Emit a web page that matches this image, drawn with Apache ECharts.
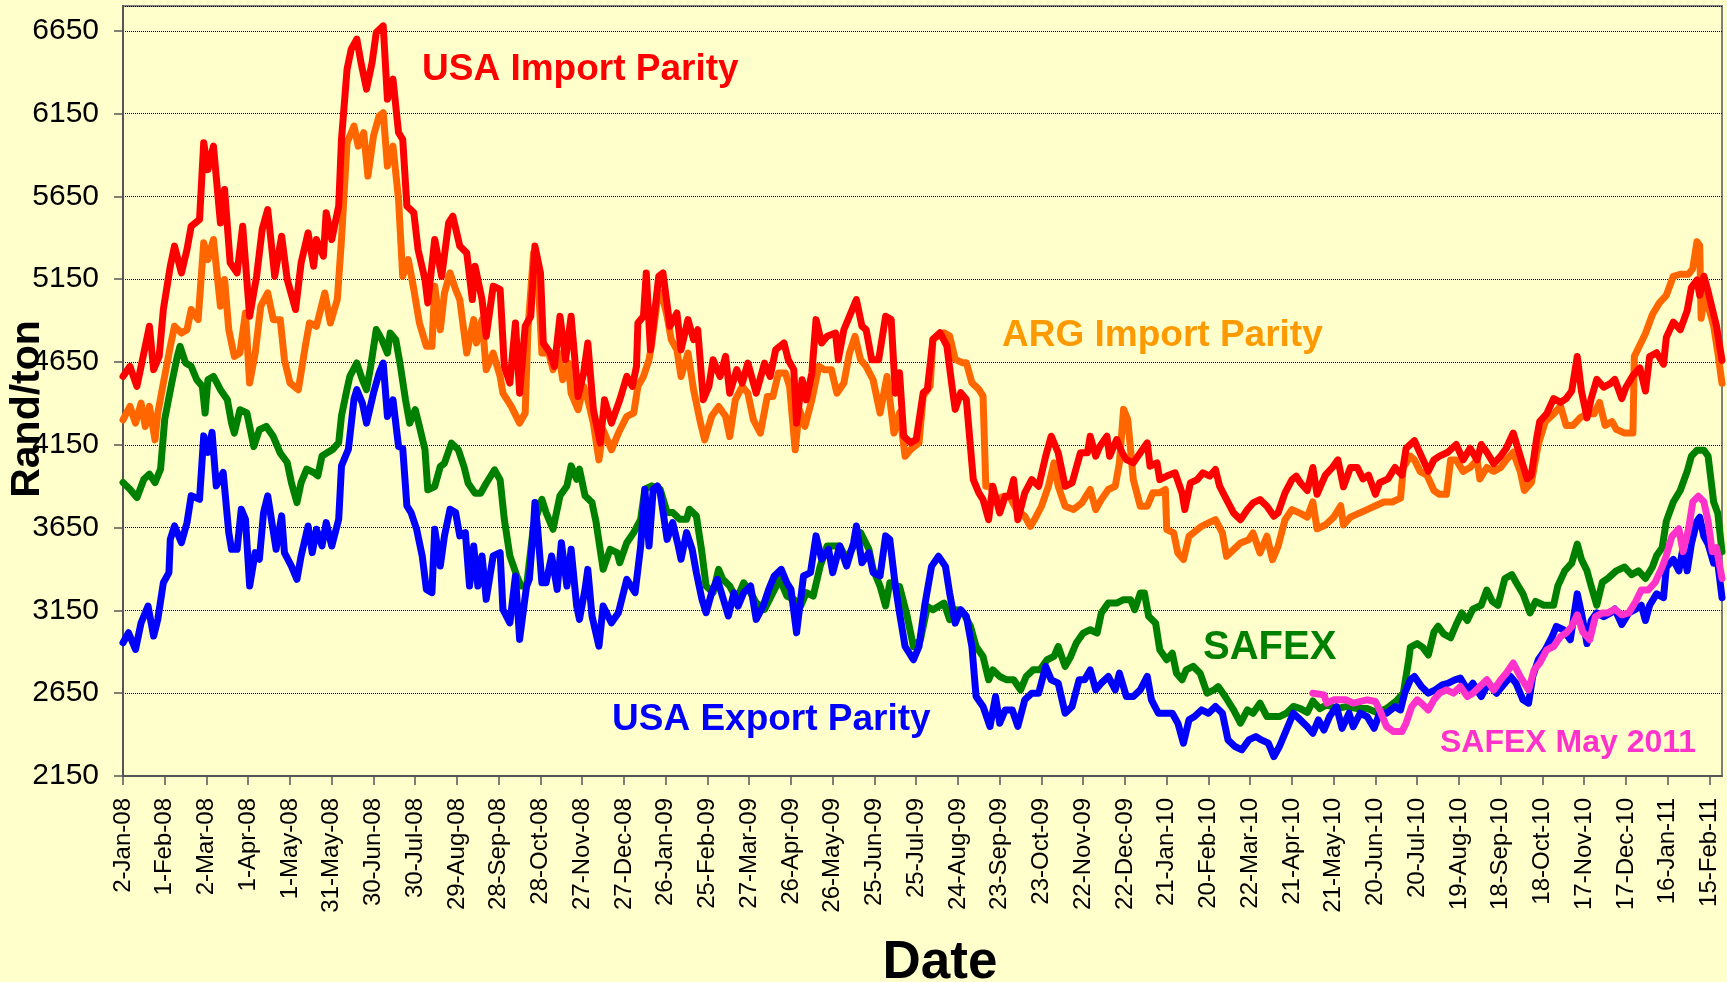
<!DOCTYPE html>
<html>
<head>
<meta charset="utf-8">
<script src="https://cdn.jsdelivr.net/npm/echarts@6/dist/echarts.min.js"></script>
<style>
html,body{margin:0;padding:0;background:#FFFFCC;}
#chart{width:1727px;height:982px;}
</style>
</head>
<body>
<div id="chart"></div>
<script>
// x values are days since 2-Jan-08
const tickLabels = ['2-Jan-08','1-Feb-08','2-Mar-08','1-Apr-08','1-May-08','31-May-08','30-Jun-08','30-Jul-08','29-Aug-08','28-Sep-08','28-Oct-08','27-Nov-08','27-Dec-08','26-Jan-09','25-Feb-09','27-Mar-09','26-Apr-09','26-May-09','25-Jun-09','25-Jul-09','24-Aug-09','23-Sep-09','23-Oct-09','22-Nov-09','22-Dec-09','21-Jan-10','20-Feb-10','22-Mar-10','21-Apr-10','21-May-10','20-Jun-10','20-Jul-10','19-Aug-10','18-Sep-10','18-Oct-10','17-Nov-10','17-Dec-10','16-Jan-11','15-Feb-11'];

const usaImport = [[0,4563],[5,4624],[10,4503],[15,4704],[19,4866],[22,4604],[26,4684],[29,4967],[34,5229],[37,5350],[42,5188],[46,5330],[49,5470],[55,5511],[58,5974],[61,5812],[65,5954],[70,5490],[73,5692],[77,5249],[82,5188],[86,5470],[91,4926],[96,5168],[100,5450],[104,5571],[109,5168],[114,5410],[118,5148],[124,4967],[128,5249],[133,5430],[137,5229],[139,5390],[144,5289],[146,5551],[150,5390],[155,5592],[157,5994],[161,6418],[164,6539],[168,6600],[171,6459],[175,6298],[179,6459],[182,6640],[187,6680],[190,6237],[194,6358],[198,6036],[201,5994],[204,5592],[209,5551],[212,5330],[217,5148],[219,5007],[224,5390],[229,5168],[234,5490],[237,5531],[242,5350],[247,5309],[251,5027],[253,5229],[258,5027],[261,4805],[266,5108],[271,5088],[274,4624],[278,4523],[282,4886],[285,4462],[289,4866],[293,4926],[296,5350],[300,5188],[302,4765],[307,4704],[310,4624],[314,4926],[318,4664],[322,4926],[327,4442],[331,4583],[334,4765],[338,4362],[343,4160],[346,4422],[351,4281],[357,4422],[362,4563],[366,4503],[369,4624],[370,4886],[374,4926],[376,5188],[379,4724],[382,4946],[385,5168],[388,5188],[393,4866],[398,4946],[401,4724],[406,4906],[410,4785],[413,4845],[417,4422],[421,4503],[424,4664],[429,4563],[433,4684],[436,4462],[441,4604],[445,4523],[449,4644],[455,4462],[461,4644],[465,4563],[469,4724],[475,4765],[478,4664],[482,4604],[484,4281],[488,4543],[491,4422],[495,4583],[498,4906],[502,4765],[506,4805],[512,4825],[514,4664],[518,4845],[522,4926],[527,5027],[531,4866],[534,4845],[538,4664],[543,4664],[548,4926],[552,4906],[555,4462],[558,4585],[561,4202],[566,4162],[570,4182],[575,4465],[578,4485],[582,4787],[587,4827],[592,4747],[596,4485],[598,4364],[602,4465],[606,4424],[611,3940],[615,3860],[618,3819],[622,3698],[625,3900],[630,3739],[634,3840],[637,3840],[640,3940],[643,3698],[648,3860],[653,3940],[658,3900],[663,4081],[667,4202],[672,4102],[677,3900],[682,3920],[688,4102],[693,4102],[695,4202],[699,4081],[702,4142],[707,4202],[709,4081],[714,4182],[718,4102],[721,4061],[726,4041],[731,4102],[736,4162],[738,4021],[743,4041],[745,3940],[750,3961],[756,3981],[761,3860],[763,3759],[767,3920],[772,3940],[776,3981],[781,3961],[785,4001],[788,3900],[793,3819],[798,3739],[803,3698],[808,3759],[812,3799],[817,3819],[822,3779],[827,3719],[830,3739],[835,3860],[840,3940],[843,3961],[846,3921],[851,3874],[855,4013],[858,3851],[864,3967],[869,4013],[873,4059],[877,3897],[882,4013],[887,4013],[891,3944],[895,3967],[900,3851],[903,3921],[909,3944],[914,4013],[919,3967],[922,4129],[928,4175],[933,4082],[938,3990],[942,4059],[946,4082],[952,4105],[958,4152],[963,4059],[968,4129],[973,4059],[976,4152],[980,4105],[985,4036],[990,4082],[994,4129],[999,4221],[1004,4082],[1009,3944],[1012,3967],[1016,4198],[1018,4290],[1023,4337],[1028,4429],[1033,4406],[1037,4429],[1041,4475],[1045,4683],[1048,4475],[1052,4313],[1055,4429],[1059,4545],[1064,4498],[1069,4521],[1072,4545],[1077,4429],[1080,4498],[1085,4568],[1090,4614],[1094,4475],[1097,4683],[1102,4706],[1107,4637],[1109,4799],[1114,4891],[1119,4845],[1124,4960],[1127,5099],[1131,5145],[1133,5053],[1136,5168],[1139,5076],[1143,4937],[1145,4868],[1149,4660]];

const argImport = [[0,4301],[5,4382],[9,4281],[13,4402],[16,4261],[19,4382],[23,4180],[25,4342],[29,4523],[34,4745],[37,4866],[42,4825],[46,4845],[49,4967],[54,4906],[58,5370],[61,5269],[65,5390],[70,4987],[73,5148],[76,4845],[80,4684],[84,4704],[88,4946],[91,4523],[95,4704],[99,4987],[104,5067],[108,4906],[113,4906],[116,4664],[120,4523],[126,4483],[131,4745],[134,4886],[139,4866],[145,5067],[149,4886],[154,5027],[157,5390],[161,5974],[166,6075],[169,5954],[173,6035],[176,5773],[180,6015],[184,6136],[187,6156],[190,5833],[194,5954],[198,5632],[201,5168],[205,5269],[209,5088],[213,4886],[218,4745],[222,4745],[224,5108],[228,4845],[231,5067],[235,5188],[239,5088],[242,5027],[247,4704],[252,4906],[254,4765],[258,4906],[261,4604],[266,4704],[271,4563],[273,4462],[279,4382],[285,4281],[289,4342],[291,4845],[295,5309],[298,5209],[301,4704],[306,4704],[309,4604],[313,4704],[316,4543],[320,4644],[322,4462],[327,4362],[331,4503],[334,4422],[338,4281],[342,4059],[345,4241],[351,4120],[356,4221],[362,4322],[367,4342],[370,4503],[374,4563],[378,4664],[380,4765],[384,5027],[387,5067],[391,4926],[394,4785],[398,4724],[401,4563],[406,4704],[410,4483],[415,4281],[418,4180],[423,4322],[428,4382],[433,4322],[436,4200],[440,4422],[445,4503],[449,4462],[453,4301],[458,4221],[463,4442],[467,4442],[471,4583],[476,4583],[479,4503],[483,4120],[486,4362],[490,4261],[495,4422],[500,4624],[504,4604],[509,4604],[513,4462],[518,4523],[522,4704],[526,4805],[530,4664],[534,4624],[539,4543],[544,4342],[549,4563],[554,4221],[558,4344],[562,4081],[566,4122],[572,4162],[575,4444],[580,4505],[582,4787],[590,4827],[594,4807],[598,4666],[603,4646],[606,4646],[610,4525],[615,4485],[618,4444],[620,3900],[623,3900],[628,3819],[633,3840],[637,3840],[642,3759],[648,3719],[652,3658],[655,3698],[660,3779],[665,3900],[669,4041],[672,3900],[677,3779],[683,3759],[689,3799],[695,3880],[699,3759],[703,3819],[708,3880],[713,3900],[716,4041],[719,4364],[722,4303],[726,3940],[731,3779],[736,3779],[740,3860],[745,3860],[749,3880],[750,3638],[755,3618],[758,3497],[762,3457],[766,3598],[769,3618],[775,3658],[780,3678],[785,3698],[790,3618],[793,3477],[798,3517],[803,3557],[809,3577],[812,3618],[817,3497],[822,3598],[826,3457],[830,3537],[835,3698],[840,3759],[846,3736],[851,3713],[855,3805],[858,3643],[864,3666],[870,3713],[875,3782],[877,3666],[882,3713],[888,3736],[894,3759],[900,3782],[906,3805],[912,3805],[918,3828],[920,4013],[925,4082],[928,4059],[932,3990],[937,3967],[942,3874],[946,3851],[951,3851],[954,4059],[958,4059],[963,3990],[968,4013],[973,4059],[975,3944],[980,4013],[985,3990],[990,4013],[994,4059],[999,4105],[1004,3990],[1007,3874],[1012,3921],[1017,4152],[1022,4290],[1028,4337],[1033,4383],[1037,4267],[1042,4267],[1047,4313],[1052,4337],[1057,4337],[1061,4406],[1065,4267],[1070,4290],[1073,4244],[1079,4221],[1085,4221],[1086,4683],[1090,4753],[1094,4822],[1099,4937],[1104,5007],[1109,5053],[1114,5168],[1119,5180],[1125,5180],[1128,5215],[1131,5376],[1133,5353],[1134,4914],[1137,5076],[1140,4960],[1143,4868],[1146,4706],[1149,4521]];

const safex = [[0,3922],[5,3882],[10,3831],[15,3942],[19,3973],[23,3922],[27,4003],[30,4305],[35,4523],[39,4684],[41,4745],[45,4644],[49,4624],[53,4543],[57,4503],[59,4342],[61,4543],[65,4563],[70,4483],[75,4422],[78,4281],[80,4221],[84,4362],[89,4342],[94,4140],[98,4241],[103,4261],[108,4200],[113,4100],[118,4043],[121,3922],[125,3801],[128,3922],[132,4003],[137,3983],[140,3963],[143,4083],[147,4104],[151,4124],[155,4164],[157,4325],[161,4487],[163,4563],[168,4644],[172,4543],[175,4483],[178,4624],[182,4846],[186,4785],[190,4704],[192,4825],[196,4785],[199,4644],[203,4422],[206,4281],[210,4362],[213,4261],[217,4120],[219,3878],[224,3898],[228,4019],[231,4039],[236,4160],[241,4120],[245,4019],[248,3918],[253,3858],[257,3858],[261,3918],[267,3999],[271,3938],[274,3700],[278,3479],[283,3358],[286,3297],[290,3297],[295,3660],[301,3821],[304,3741],[309,3640],[314,3842],[319,3902],[322,4023],[326,3942],[328,4003],[332,3842],[337,3801],[340,3680],[345,3398],[350,3519],[355,3499],[357,3438],[362,3559],[367,3620],[372,3700],[375,3882],[380,3902],[386,3882],[391,3741],[395,3741],[400,3700],[405,3700],[407,3761],[412,3721],[416,3499],[419,3297],[424,3257],[428,3398],[431,3338],[436,3297],[441,3217],[446,3317],[451,3257],[455,3197],[461,3156],[467,3257],[472,3338],[477,3237],[482,3217],[487,3177],[491,3257],[496,3237],[501,3418],[506,3539],[510,3539],[515,3539],[520,3459],[525,3539],[530,3620],[536,3519],[539,3398],[544,3297],[548,3177],[551,3317],[555,3297],[558,3295],[563,3134],[568,2932],[573,2973],[578,3174],[582,3154],[590,3194],[594,3094],[599,3154],[604,3134],[609,3053],[613,2932],[618,2872],[622,2731],[625,2791],[630,2751],[635,2731],[640,2731],[645,2670],[649,2751],[654,2791],[659,2791],[664,2852],[669,2872],[672,2932],[677,2812],[681,2872],[685,2953],[690,3013],[695,3033],[700,3013],[703,3134],[708,3194],[714,3194],[719,3215],[724,3215],[727,3154],[731,3255],[734,3255],[737,3114],[742,3073],[745,2912],[750,2852],[754,2892],[757,2771],[761,2731],[764,2791],[769,2812],[774,2771],[779,2650],[784,2670],[787,2690],[792,2630],[798,2549],[803,2469],[808,2549],[812,2529],[817,2590],[822,2509],[827,2509],[831,2509],[836,2529],[841,2570],[846,2557],[851,2534],[855,2603],[860,2557],[865,2580],[872,2557],[879,2569],[887,2557],[894,2557],[901,2534],[908,2557],[915,2603],[920,2650],[924,2857],[925,2927],[930,2950],[934,2927],[938,2881],[942,3019],[945,3054],[949,3008],[954,2985],[958,3065],[962,3135],[966,3089],[970,3158],[976,3181],[980,3273],[984,3204],[988,3181],[993,3343],[998,3366],[1001,3320],[1006,3250],[1011,3135],[1015,3204],[1021,3181],[1028,3181],[1031,3297],[1036,3389],[1041,3435],[1045,3551],[1048,3458],[1052,3389],[1055,3297],[1059,3181],[1063,3320],[1067,3343],[1073,3389],[1079,3412],[1084,3366],[1089,3389],[1094,3343],[1099,3412],[1102,3481],[1106,3528],[1109,3689],[1114,3805],[1119,3874],[1124,3990],[1127,4082],[1131,4117],[1136,4117],[1139,4082],[1143,3805],[1146,3736],[1149,3505]];

const usaExport = [[0,2955],[4,3015],[9,2914],[13,3075],[18,3176],[22,2995],[25,3096],[29,3317],[33,3378],[34,3580],[37,3660],[42,3559],[46,3680],[49,3842],[55,3821],[58,4204],[61,4104],[64,4225],[67,3902],[72,3983],[76,3620],[78,3519],[82,3519],[85,3761],[88,3700],[91,3297],[95,3499],[98,3459],[101,3741],[104,3842],[107,3680],[110,3519],[114,3721],[116,3499],[121,3418],[125,3338],[128,3479],[133,3660],[136,3499],[139,3640],[143,3539],[146,3680],[150,3539],[155,3700],[157,4023],[162,4124],[166,4426],[168,4483],[172,4402],[175,4281],[180,4462],[184,4583],[187,4644],[190,4321],[194,4422],[198,4140],[201,4130],[204,3781],[207,3741],[211,3640],[215,3479],[218,3277],[222,3257],[224,3640],[228,3418],[231,3600],[235,3761],[239,3741],[242,3600],[246,3620],[249,3297],[252,3539],[255,3297],[258,3479],[261,3217],[266,3479],[271,3499],[273,3156],[278,3075],[282,3358],[285,2975],[290,3297],[292,3338],[295,3660],[296,3801],[298,3640],[301,3317],[304,3317],[308,3479],[312,3277],[315,3559],[319,3297],[322,3519],[326,3176],[328,3096],[332,3277],[334,3398],[337,3116],[342,2934],[345,3176],[351,3075],[356,3136],[362,3338],[368,3257],[372,3539],[375,3882],[378,3539],[381,3882],[384,3902],[386,3862],[391,3579],[395,3680],[399,3539],[401,3459],[405,3620],[409,3519],[412,3378],[416,3217],[419,3136],[423,3257],[427,3338],[430,3257],[435,3116],[439,3257],[442,3176],[446,3257],[451,3297],[455,3096],[460,3176],[464,3277],[468,3358],[473,3398],[477,3317],[480,3277],[484,3015],[489,3358],[494,3378],[498,3600],[502,3459],[507,3519],[510,3378],[515,3539],[520,3418],[525,3559],[527,3660],[531,3438],[536,3499],[539,3378],[544,3358],[548,3600],[551,3579],[555,3297],[558,3134],[562,2932],[568,2852],[572,2932],[576,3174],[581,3416],[586,3477],[591,3416],[594,3255],[598,3073],[602,3154],[606,3114],[610,2932],[613,2630],[618,2570],[623,2449],[627,2630],[630,2469],[634,2549],[639,2549],[643,2449],[648,2610],[653,2650],[658,2650],[663,2812],[667,2731],[672,2711],[677,2529],[682,2570],[687,2731],[691,2731],[695,2791],[699,2670],[703,2711],[708,2751],[713,2670],[716,2771],[721,2630],[726,2630],[731,2670],[736,2751],[739,2610],[744,2529],[749,2529],[754,2529],[758,2469],[762,2348],[766,2489],[770,2509],[775,2549],[780,2529],[785,2570],[790,2529],[794,2368],[799,2328],[804,2308],[809,2368],[814,2388],[818,2368],[823,2348],[827,2267],[831,2328],[836,2429],[841,2529],[846,2489],[851,2448],[855,2408],[859,2489],[863,2428],[867,2509],[872,2569],[876,2438],[881,2529],[884,2448],[889,2529],[894,2509],[899,2438],[903,2529],[908,2529],[914,2569],[918,2549],[921,2650],[925,2731],[928,2751],[933,2690],[938,2650],[943,2670],[948,2700],[952,2710],[957,2731],[961,2741],[966,2670],[970,2710],[976,2630],[981,2710],[987,2650],[991,2690],[997,2751],[1001,2710],[1006,2610],[1010,2590],[1013,2751],[1017,2852],[1022,2912],[1027,2993],[1030,3053],[1035,3033],[1040,2973],[1045,3250],[1048,3135],[1052,2950],[1055,3089],[1059,3135],[1064,3112],[1069,3135],[1072,3158],[1077,3065],[1082,3135],[1087,3158],[1091,3181],[1094,3089],[1097,3181],[1102,3250],[1107,3227],[1109,3412],[1114,3458],[1118,3389],[1121,3528],[1124,3389],[1127,3551],[1131,3689],[1133,3713],[1136,3597],[1139,3551],[1143,3435],[1146,3435],[1149,3227]];

const safexMay2011 = [[855,2650],[863,2640],[865,2590],[870,2610],[879,2610],[884,2590],[894,2610],[900,2600],[903,2549],[908,2448],[913,2418],[919,2418],[922,2469],[926,2569],[930,2610],[933,2590],[938,2549],[942,2610],[946,2650],[951,2670],[956,2650],[961,2690],[966,2630],[970,2650],[975,2690],[980,2731],[985,2670],[990,2731],[994,2771],[999,2832],[1004,2751],[1010,2670],[1014,2791],[1018,2832],[1023,2912],[1028,2932],[1033,2993],[1037,3013],[1041,3053],[1045,3123],[1049,3019],[1054,2973],[1058,3112],[1063,3135],[1067,3135],[1072,3158],[1077,3123],[1082,3135],[1087,3204],[1091,3273],[1096,3273],[1101,3320],[1106,3412],[1109,3481],[1113,3597],[1118,3643],[1121,3505],[1125,3643],[1128,3805],[1132,3840],[1136,3805],[1139,3689],[1142,3505],[1145,3528],[1149,3343]];

const FONT = '"Liberation Sans", Arial, sans-serif';
const chart = echarts.init(document.getElementById('chart'));

function lineSeries(name, data, color) {
  return {
    name: name, type: 'line', data: data, showSymbol: false, symbol: 'none',
    lineStyle: { color: color, width: 7, join: 'round', cap: 'round' },
    itemStyle: { color: color }, animation: false
  };
}

const option = {
  backgroundColor: '#FFFFCC',
  animation: false,
  grid: { left: 123, right: 5, top: 6, bottom: 206, show: true, backgroundColor: '#FFFFCC', borderColor: '#808080', borderWidth: 2, containLabel: false },
  xAxis: {
    type: 'value', min: 0, max: 1149, interval: 30,
    axisLine: { show: true, onZero: false, lineStyle: { color: '#555555', width: 2 } },
    axisTick: { show: true, length: 9, lineStyle: { color: '#555555', width: 1.5 } },
    axisLabel: {
      rotate: 90, margin: 22, fontSize: 24, fontFamily: FONT, color: '#000',
      showMaxLabel: false, showMinLabel: true, hideOverlap: false,
      formatter: function (v) {
        const i = v / 30;
        return (Number.isInteger(i) && tickLabels[i]) ? tickLabels[i] : '';
      }
    },
    splitLine: { show: false }
  },
  yAxis: {
    type: 'value', min: 2150, max: 6800, interval: 500,
    axisLine: { show: true, lineStyle: { color: '#555555', width: 2 } },
    axisTick: { show: true, length: 9, lineStyle: { color: '#555555', width: 1.5 } },
    axisLabel: { margin: 24, fontSize: 30, fontFamily: FONT, color: '#000', showMaxLabel: false,
      formatter: function (v) { return String(v); } },
    splitLine: { show: true, lineStyle: { type: 'dotted', color: '#000', width: 1 } }
  },
  series: [
    lineSeries('ARG Import Parity', argImport, '#FF6600'),
    lineSeries('USA Import Parity', usaImport, '#FF0000'),
    lineSeries('SAFEX', safex, '#008000'),
    lineSeries('USA Export Parity', usaExport, '#0000FF'),
    lineSeries('SAFEX May 2011', safexMay2011, '#FF33CC')
  ],
  graphic: [
    { type: 'text', x: 422, y: 70, z: 100, style: { text: 'USA Import Parity', font: 'bold 37px ' + FONT, fill: '#FF0000', verticalAlign: 'middle', align: 'left' } },
    { type: 'text', x: 1002, y: 336, z: 100, style: { text: 'ARG Import Parity', font: 'bold 37px ' + FONT, fill: '#FF9900', verticalAlign: 'middle', align: 'left' } },
    { type: 'text', x: 1203, y: 648, z: 100, style: { text: 'SAFEX', font: 'bold 40px ' + FONT, fill: '#008000', verticalAlign: 'middle', align: 'left' } },
    { type: 'text', x: 612, y: 720, z: 100, style: { text: 'USA Export Parity', font: 'bold 37px ' + FONT, fill: '#0000FF', verticalAlign: 'middle', align: 'left' } },
    { type: 'text', x: 1440, y: 743, z: 100, style: { text: 'SAFEX May 2011', font: 'bold 32px ' + FONT, fill: '#FF33CC', verticalAlign: 'middle', align: 'left' } },
    { type: 'text', x: 28, y: 409, rotation: Math.PI / 2, z: 100, style: { text: 'Rand/ton', font: 'bold 41px ' + FONT, fill: '#000', verticalAlign: 'middle', align: 'center' } },
    { type: 'text', x: 940, y: 963, z: 100, style: { text: 'Date', font: 'bold 53px "Liberation Sans Narrow", "Arial Narrow", ' + FONT, fill: '#000', verticalAlign: 'middle', align: 'center' } }
  ]
};
chart.setOption(option);
</script>
</body>
</html>
